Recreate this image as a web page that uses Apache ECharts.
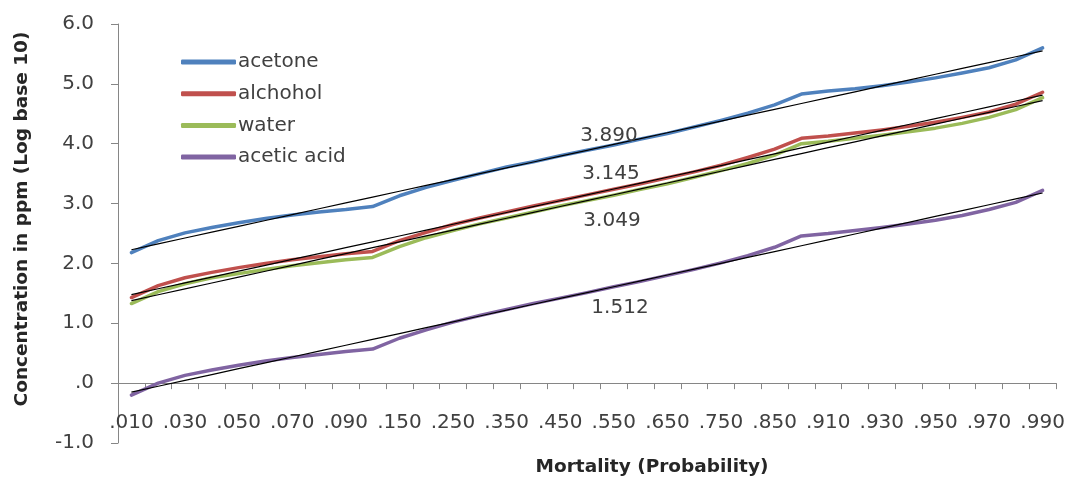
<!DOCTYPE html>
<html>
<head>
<meta charset="utf-8">
<title>Concentration vs Mortality</title>
<script src="https://cdn.jsdelivr.net/npm/echarts@6/dist/echarts.min.js"></script>
<style>
  html, body { margin: 0; padding: 0; background: #ffffff; }
  #chart { width: 1066px; height: 480px; }
</style>
</head>
<body>
<div id="chart"></div>
<script>
// Mortality probabilities (category axis); every other one is labelled
const categories = [
  '.010', '.020', '.030', '.040', '.050', '.060', '.070', '.080', '.090',
  '.100', '.150', '.200', '.250', '.300', '.350', '.400', '.450', '.500',
  '.550', '.600', '.650', '.700', '.750', '.800', '.850',
  '.900', '.910', '.920', '.930', '.940', '.950', '.960', '.970', '.980', '.990'
];

// Log10 concentration (ppm) for each solvent
const acetone = [
  2.18, 2.38, 2.51, 2.60, 2.68, 2.75, 2.81, 2.86, 2.90,
  2.95, 3.13, 3.27, 3.39, 3.50, 3.61, 3.70, 3.80, 3.890,
  3.98, 4.08, 4.17, 4.28, 4.39, 4.51, 4.65,
  4.83, 4.88, 4.92, 4.97, 5.03, 5.10, 5.18, 5.27, 5.40, 5.60
];
const alchohol = [
  1.43, 1.63, 1.76, 1.85, 1.93, 2.00, 2.06, 2.11, 2.16,
  2.20, 2.38, 2.52, 2.65, 2.76, 2.86, 2.96, 3.05, 3.145,
  3.24, 3.33, 3.43, 3.53, 3.64, 3.77, 3.91,
  4.09, 4.13, 4.18, 4.23, 4.29, 4.36, 4.44, 4.53, 4.66, 4.86
];
const water = [
  1.33, 1.53, 1.66, 1.76, 1.83, 1.90, 1.96, 2.01, 2.06,
  2.10, 2.28, 2.43, 2.55, 2.66, 2.76, 2.86, 2.96, 3.049,
  3.14, 3.24, 3.33, 3.44, 3.55, 3.67, 3.81,
  4.00, 4.04, 4.09, 4.14, 4.20, 4.26, 4.34, 4.44, 4.57, 4.77
];
const aceticAcid = [
  -0.20, 0.00, 0.13, 0.22, 0.30, 0.37, 0.43, 0.48, 0.53,
  0.57, 0.75, 0.89, 1.02, 1.13, 1.23, 1.33, 1.42, 1.512,
  1.61, 1.70, 1.80, 1.90, 2.01, 2.13, 2.27,
  2.46, 2.50, 2.55, 2.60, 2.66, 2.72, 2.80, 2.90, 3.02, 3.22
];

// Value at 50% mortality, shown next to each curve
const midCategory = '.500';
const lc50 = [3.890, 3.145, 3.049, 1.512];

// Y axis tick values
const yTicks = { min: -1, max: 6, step: 1 };

const names = ['acetone', 'alchohol', 'water', 'acetic acid'];
const seriesData = [acetone, alchohol, water, aceticAcid];
const colors = ['#4f81bd', '#c0504d', '#9bbb59', '#8064a2'];
// label offsets [dx, dy] from the 50% point of each curve
const labelOffsets = [[22, -15], [24, -21], [25, 20], [33, 15]];

// Least-squares linear trend over the category index
function linearTrend(values) {
  const n = values.length;
  let sx = 0, sy = 0, sxx = 0, sxy = 0;
  values.forEach((v, i) => { sx += i; sy += v; sxx += i * i; sxy += i * v; });
  const b = (n * sxy - sx * sy) / (n * sxx - sx * sx);
  const a = (sy - b * sx) / n;
  return values.map((_, i) => a + b * i);
}

const FONT = 'DejaVu Sans';
const TEXT = '#404040';

const series = [];
seriesData.forEach((data, k) => {
  series.push({
    name: names[k],
    type: 'line',
    data: data,
    symbol: 'none',
    lineStyle: { color: colors[k], width: 3.5, cap: 'round', join: 'round' },
    itemStyle: { color: colors[k] },
    z: 2,
    markPoint: {
      symbol: 'circle',
      symbolSize: 1,
      itemStyle: { color: 'rgba(0,0,0,0)' },
      label: {
        show: true,
        position: 'inside',
        offset: labelOffsets[k],
        formatter: () => lc50[k].toFixed(3),
        color: TEXT,
        fontFamily: FONT,
        fontSize: 20
      },
      data: [{ coord: [midCategory, lc50[k]] }]
    }
  });
});
seriesData.forEach((data, k) => {
  series.push({
    name: 'Linear (' + names[k] + ')',
    type: 'line',
    data: linearTrend(data),
    symbol: 'none',
    silent: true,
    lineStyle: { color: '#000000', width: 1.2 },
    z: 3
  });
});

const chart = echarts.init(document.getElementById('chart'), null, { renderer: 'canvas' });
chart.setOption({
  animation: false,
  backgroundColor: '#ffffff',
  grid: { left: 118, right: 10, top: 24, bottom: 37, containLabel: false, outerBoundsMode: 'none' },
  legend: {
    data: names,
    orient: 'vertical',
    left: 176,
    top: 47,
    itemWidth: 55,
    itemHeight: 5,
    itemGap: 11.7,
    icon: 'roundRect',
    textStyle: { color: TEXT, fontFamily: FONT, fontSize: 20, lineHeight: 20, padding: [0, 0, 0, -3] }
  },
  xAxis: {
    type: 'category',
    data: categories,
    boundaryGap: true,
    position: 'bottom',
    axisLine: { onZero: false, lineStyle: { color: '#868686', width: 1 } },
    axisTick: { show: true, interval: 0, length: 6, inside: false, lineStyle: { color: '#868686' } },
    axisLabel: { interval: 1, margin: 30, color: TEXT, fontFamily: FONT, fontSize: 20 },
    splitLine: { show: false }
  },
  yAxis: {
    type: 'value',
    min: yTicks.min,
    max: yTicks.max,
    interval: yTicks.step,
    axisLine: { show: true, lineStyle: { color: '#868686', width: 1 } },
    axisTick: { show: true, length: 7, lineStyle: { color: '#868686' } },
    axisLabel: {
      margin: 24,
      color: TEXT,
      fontFamily: FONT,
      fontSize: 20,
      formatter: v => (v === 0 ? '.0' : v.toFixed(1))
    },
    splitLine: { show: false }
  },
  graphic: [
    {
      type: 'text',
      x: 22,
      y: 219,
      rotation: Math.PI / 2,
      style: {
        text: 'Concentration in ppm (Log base 10)',
        fill: '#262626',
        font: 'bold 18.5px "DejaVu Sans"',
        textAlign: 'center',
        textVerticalAlign: 'middle'
      }
    },
    {
      type: 'text',
      x: 652,
      y: 467,
      style: {
        text: 'Mortality (Probability)',
        fill: '#262626',
        font: 'bold 18.5px "DejaVu Sans"',
        textAlign: 'center',
        textVerticalAlign: 'middle'
      }
    }
  ],
  series: series
});

// The category axis crosses the value axis at 0: shift it (line, ticks, labels) up to that value
const yZero = chart.convertToPixel({ yAxisIndex: 0 }, 0);
const yBottom = chart.convertToPixel({ yAxisIndex: 0 }, yTicks.min);
chart.setOption({ xAxis: { offset: yZero - yBottom } });
</script>
</body>
</html>
